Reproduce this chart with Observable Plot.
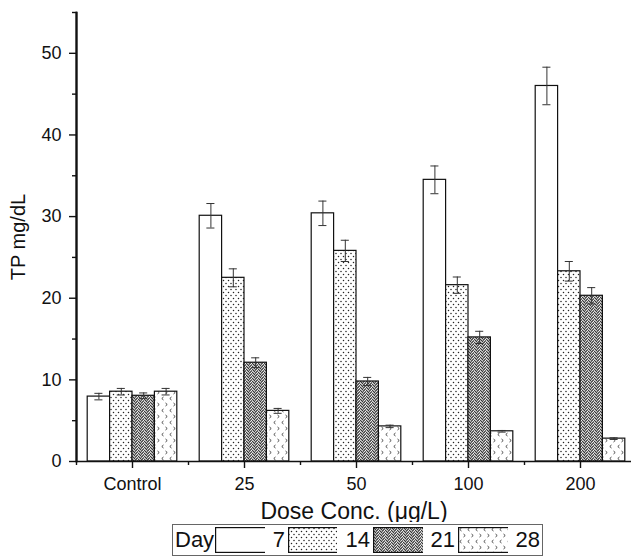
<!DOCTYPE html>
<html><head><meta charset="utf-8">
<script src="https://cdn.jsdelivr.net/npm/d3@7"></script>
<script src="https://cdn.jsdelivr.net/npm/@observablehq/plot@0.6"></script>
<style>
html,body{margin:0;padding:0;background:#fff;overflow:hidden;}
#chart{position:relative;width:631px;height:557px;overflow:hidden;font-family:"Liberation Sans",Arial,sans-serif;}
#legend{position:absolute;left:172px;top:524px;width:371px;height:32px;border:1px solid #666;box-sizing:border-box;display:flex;align-items:center;font-size:22px;color:#111;line-height:1;}
#legend svg{display:block;}
</style>
</head><body>
<svg width="0" height="0" style="position:absolute">
  <defs>
    <pattern id="pDots" width="5" height="6" patternUnits="userSpaceOnUse">
      <rect width="5" height="6" fill="#fff"/>
      <circle cx="1" cy="1.5" r="0.75" fill="#222"/>
      <circle cx="3.5" cy="4.5" r="0.75" fill="#222"/>
    </pattern>
    <pattern id="pHerring" width="6" height="6" patternUnits="userSpaceOnUse">
      <rect width="6" height="6" fill="#fff"/>
      <path d="M0,0 L3,3 M0,3 L3,6 M0,-3 L3,0 M0,6 L3,9 M3,4.5 L6,1.5 M3,7.5 L6,4.5 M3,1.5 L6,-1.5 M3,10.5 L6,7.5" stroke="#333" stroke-width="1.2" fill="none"/>
    </pattern>
    <pattern id="pChev" width="8" height="12" patternUnits="userSpaceOnUse">
      <rect width="8" height="12" fill="#fff"/>
      <path d="M3.5,1 L1.8,2.5 L3.5,4 M5.5,7 L7.2,8.5 L5.5,10" stroke="#333" stroke-width="0.9" fill="none"/>
    </pattern>
  </defs>
</svg>
<div id="chart"></div>
<script>
// ---- data ----
const groups = ["Control", "25", "50", "100", "200"];
const days = ["7", "14", "21", "28"];
const day7 = [7.95, 30.1, 30.4, 34.5, 46.0];
const day7Err = [0.4, 1.5, 1.5, 1.7, 2.3];
const day14 = [8.55, 22.5, 25.8, 21.6, 23.3];
const day14Err = [0.4, 1.1, 1.3, 1.0, 1.2];
const day21 = [8.05, 12.1, 9.8, 15.2, 20.3];
const day21Err = [0.35, 0.6, 0.5, 0.75, 1.0];
const day28 = [8.55, 6.2, 4.3, 3.7, 2.8];
const day28Err = [0.4, 0.3, 0.15, 0.1, 0.1];
const yMajorTicks = [0, 10, 20, 30, 40, 50];
const yMinorTicks = [5, 15, 25, 35, 45, 55];
const yMax = 55;
const fills = ["#ffffff", "url(#pDots)", "url(#pHerring)", "url(#pChev)"];

// layout in group units: each group is 1 unit wide, bars fill 80% of it
const groupFill = 0.8;
const barW = groupFill / days.length;
const capHalf = 0.036;

const seriesValues = [day7, day14, day21, day28];
const seriesErrs = [day7Err, day14Err, day21Err, day28Err];
const data = groups.flatMap((g, i) => days.map((d, j) => {
  const x1 = i - groupFill / 2 + j * barW;
  return {group: g, day: d, value: seriesValues[j][i], err: seriesErrs[j][i],
          x1, x2: x1 + barW, xc: x1 + barW / 2};
}));
const groupIdx = groups.map((g, i) => i);
const groupEdges = groups.map((g, i) => i - 0.5);

const font = "Liberation Sans, Arial, sans-serif";
const chart = Plot.plot({
  width: 631, height: 522,
  marginLeft: 76, marginRight: 0, marginTop: 12, marginBottom: 61,
  style: {fontFamily: font, color: "#111", background: "white"},
  x: {domain: [-0.5, groups.length - 0.5], range: [76, 636]},
  y: {domain: [0, yMax]},
  color: {domain: days, range: fills},
  marks: [
    Plot.rectY(data, {x1: "x1", x2: "x2", y: "value", fill: "day", stroke: "#111", strokeWidth: 1.2}),
    Plot.ruleX(data, {x: "xc", y1: d => d.value - d.err, y2: d => d.value + d.err, stroke: "#333", strokeWidth: 1}),
    Plot.ruleY(data, {x1: d => d.xc - capHalf, x2: d => d.xc + capHalf, y: d => d.value - d.err, stroke: "#333", strokeWidth: 1}),
    Plot.ruleY(data, {x1: d => d.xc - capHalf, x2: d => d.xc + capHalf, y: d => d.value + d.err, stroke: "#333", strokeWidth: 1}),
    Plot.axisY({ticks: yMajorTicks, tickSize: 7, tickPadding: 8, fontSize: 18, label: null, strokeWidth: 1.4}),
    Plot.axisY({ticks: yMinorTicks, tickSize: 4, tickFormat: () => "", label: null, strokeWidth: 1.4}),
    Plot.axisY({ticks: [], label: "TP mg/dL", labelAnchor: "center", labelArrow: "none", labelOffset: 66, fontSize: 20, dy: -6}),
    Plot.axisX({ticks: groupIdx, tickFormat: i => groups[i], tickSize: 7, tickPadding: 9, fontSize: 18, label: null, strokeWidth: 1.4}),
    Plot.axisX({ticks: groupEdges, tickFormat: () => "", tickSize: 4, label: null, strokeWidth: 1.4}),
    Plot.axisX({ticks: [], tickSize: 0, label: "Dose Conc. (μg/L)", labelAnchor: "center", labelArrow: "none", labelOffset: 57, fontSize: 23}),
    Plot.ruleY([0], {stroke: "#111", strokeWidth: 1.6}),
    Plot.frame({anchor: "left", stroke: "#111", strokeWidth: 1.8}),
    Plot.ruleX([groupEdges[0]], {x: d => d, y1: 0, y2: yMax, stroke: "#111", strokeWidth: 2})
  ]
});
const wrap = document.getElementById("chart");
wrap.appendChild(chart);

// ---- legend (below the plot) ----
const legend = document.createElement("div");
legend.id = "legend";
function addText(t, ml, mr) {
  const s = document.createElement("span");
  s.textContent = t; s.style.marginLeft = ml + "px"; s.style.marginRight = mr + "px";
  legend.appendChild(s);
}
function addSwatch(fill, ml) {
  const ns = "http://www.w3.org/2000/svg";
  const svg = document.createElementNS(ns, "svg");
  svg.setAttribute("width", 52); svg.setAttribute("height", 26);
  svg.style.marginLeft = ml + "px";
  const r = document.createElementNS(ns, "rect");
  r.setAttribute("x", 0.6); r.setAttribute("y", 0.6); r.setAttribute("width", 50.8); r.setAttribute("height", 24.8);
  r.setAttribute("fill", fill); r.setAttribute("stroke", "#111"); r.setAttribute("stroke-width", 1.2);
  svg.appendChild(r); legend.appendChild(svg);
}
addText("Day", 2, 0);
days.forEach((d, i) => {
  addSwatch(fills[i], 1);
  addText(d, 8, 2);
});
wrap.appendChild(legend);
</script>
</body></html>
